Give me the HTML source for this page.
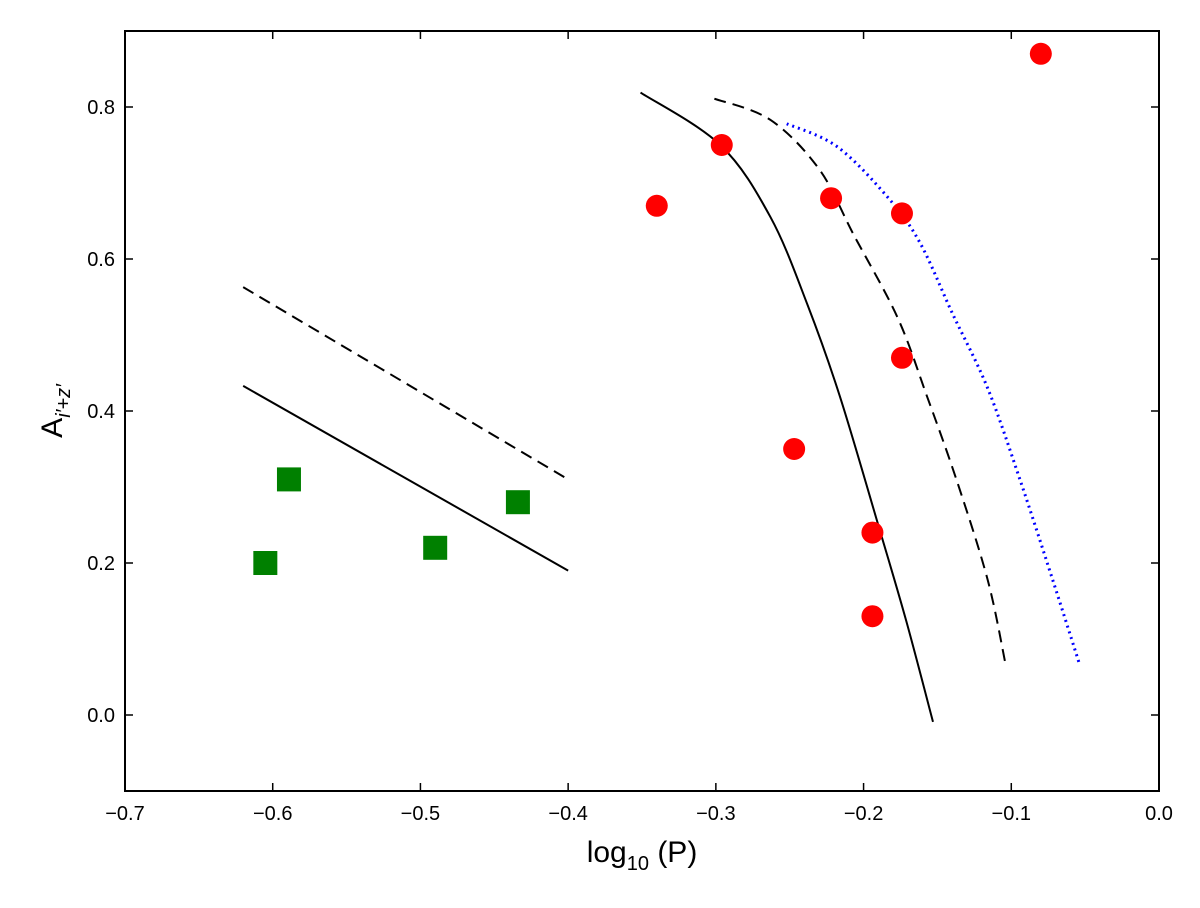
<!DOCTYPE html>
<html><head><meta charset="utf-8"><style>
body{margin:0;background:#fff;}
svg text{font-family:"Liberation Sans",sans-serif;fill:#000;}
</style></head><body>
<svg width="1200" height="903" xmlns="http://www.w3.org/2000/svg" id="chart">
<g id="plot"></g>
<text x="642" y="862" font-size="30" text-anchor="middle">log<tspan font-size="20" dy="8">10</tspan><tspan dy="-8"> (P)</tspan></text>
<text transform="translate(62,411) rotate(-90)" font-size="30" text-anchor="middle">A<tspan font-size="20" dy="8" font-style="italic">i′+z′</tspan></text>
</svg>
<script>
const xTicks=[-0.7,-0.6,-0.5,-0.4,-0.3,-0.2,-0.1,0.0];
const xTickLabels=["\u22120.7","\u22120.6","\u22120.5","\u22120.4","\u22120.3","\u22120.2","\u22120.1","0.0"];
const yTicks=[0.0,0.2,0.4,0.6,0.8];
const yTickLabels=["0.0","0.2","0.4","0.6","0.8"];
const redX=[-0.34,-0.296,-0.222,-0.174,-0.174,-0.247,-0.194,-0.194,-0.08];
const redY=[0.67,0.75,0.68,0.66,0.47,0.35,0.24,0.13,0.87];
const greenX=[-0.605,-0.589,-0.49,-0.434];
const greenY=[0.20,0.31,0.22,0.28];
const lineSolidX=[-0.62,-0.40], lineSolidY=[0.433,0.19];
const lineDashX=[-0.62,-0.40], lineDashY=[0.563,0.31];
const curveSolidX=[-0.351,-0.297,-0.263,-0.238,-0.216,-0.189,-0.171,-0.153];
const curveSolidY=[0.819,0.750,0.655,0.540,0.419,0.243,0.123,-0.009];
const curveDashX=[-0.301,-0.263,-0.230,-0.207,-0.177,-0.157,-0.137,-0.116,-0.104];
const curveDashY=[0.811,0.783,0.718,0.633,0.523,0.419,0.309,0.178,0.068];
const curveDotX=[-0.252,-0.218,-0.184,-0.162,-0.140,-0.116,-0.094,-0.072,-0.054];
const curveDotY=[0.778,0.748,0.682,0.622,0.529,0.430,0.309,0.178,0.068];

const L=125,R=1159,T=31,B=791,xmin=-0.7,xmax=0.0,ymin=-0.1,ymax=0.9;
const sx=v=>L+(v-xmin)/(xmax-xmin)*(R-L);
const sy=v=>B-(v-ymin)/(ymax-ymin)*(B-T);
const NS="http://www.w3.org/2000/svg";
const g=document.getElementById('plot');
function mk(tag,attrs){const e=document.createElementNS(NS,tag);for(const k in attrs)e.setAttribute(k,attrs[k]);g.appendChild(e);return e;}
function smooth(xs,ys){
  const p=xs.map((x,i)=>[sx(x),sy(ys[i])]);
  let d='M'+p[0][0]+','+p[0][1];
  for(let i=0;i<p.length-1;i++){
    const p0=p[i-1]||p[i],p1=p[i],p2=p[i+1],p3=p[i+2]||p2;
    const c1=[p1[0]+(p2[0]-p0[0])/6,p1[1]+(p2[1]-p0[1])/6];
    const c2=[p2[0]-(p3[0]-p1[0])/6,p2[1]-(p3[1]-p1[1])/6];
    d+=' C'+c1[0]+','+c1[1]+' '+c2[0]+','+c2[1]+' '+p2[0]+','+p2[1];
  }
  return d;
}
function curve(xs,ys,name,style){
  const e=mk('path',Object.assign({d:smooth(xs,ys),fill:'none'},style));
  
  
}
curve(lineSolidX,lineSolidY,'solid-line-short-period',{stroke:'#000','stroke-width':2});
curve(lineDashX,lineDashY,'dashed-line-short-period',{stroke:'#000','stroke-width':2,'stroke-dasharray':'12,7'});
curve(curveSolidX,curveSolidY,'solid-curve',{stroke:'#000','stroke-width':2});
curve(curveDashX,curveDashY,'dashed-curve',{stroke:'#000','stroke-width':2,'stroke-dasharray':'12,7'});
curve(curveDotX,curveDotY,'blue-dotted-curve',{stroke:'#0000ff','stroke-width':3,'stroke-dasharray':'2,4'});
redX.forEach((x,i)=>{
  const c=mk('circle',{cx:sx(x),cy:sy(redY[i]),r:11,fill:'#ff0000'});
  
  
});
greenX.forEach((x,i)=>{
  const r=mk('rect',{x:sx(x)-12,y:sy(greenY[i])-12,width:24,height:24,fill:'#008000'});
  
  
});
const fr=mk('rect',{x:L,y:T,width:R-L,height:B-T,fill:'none',stroke:'#000','stroke-width':2});


xTicks.forEach((v,i)=>{
  const x=sx(v);
  mk('line',{x1:x,y1:B,x2:x,y2:B-8,stroke:'#000','stroke-width':1.5});
  mk('line',{x1:x,y1:T,x2:x,y2:T+8,stroke:'#000','stroke-width':1.5});
  const t=mk('text',{x:x,y:B+29,'font-size':20,'text-anchor':'middle'});
  t.textContent=xTickLabels[i];
  
  
});
yTicks.forEach((v,i)=>{
  const y=sy(v);
  mk('line',{x1:L,y1:y,x2:L+8,y2:y,stroke:'#000','stroke-width':1.5});
  mk('line',{x1:R,y1:y,x2:R-8,y2:y,stroke:'#000','stroke-width':1.5});
  const t=mk('text',{x:L-10,y:y+7,'font-size':20,'text-anchor':'end'});
  t.textContent=yTickLabels[i];
  
  
});
</script>
</body></html>
